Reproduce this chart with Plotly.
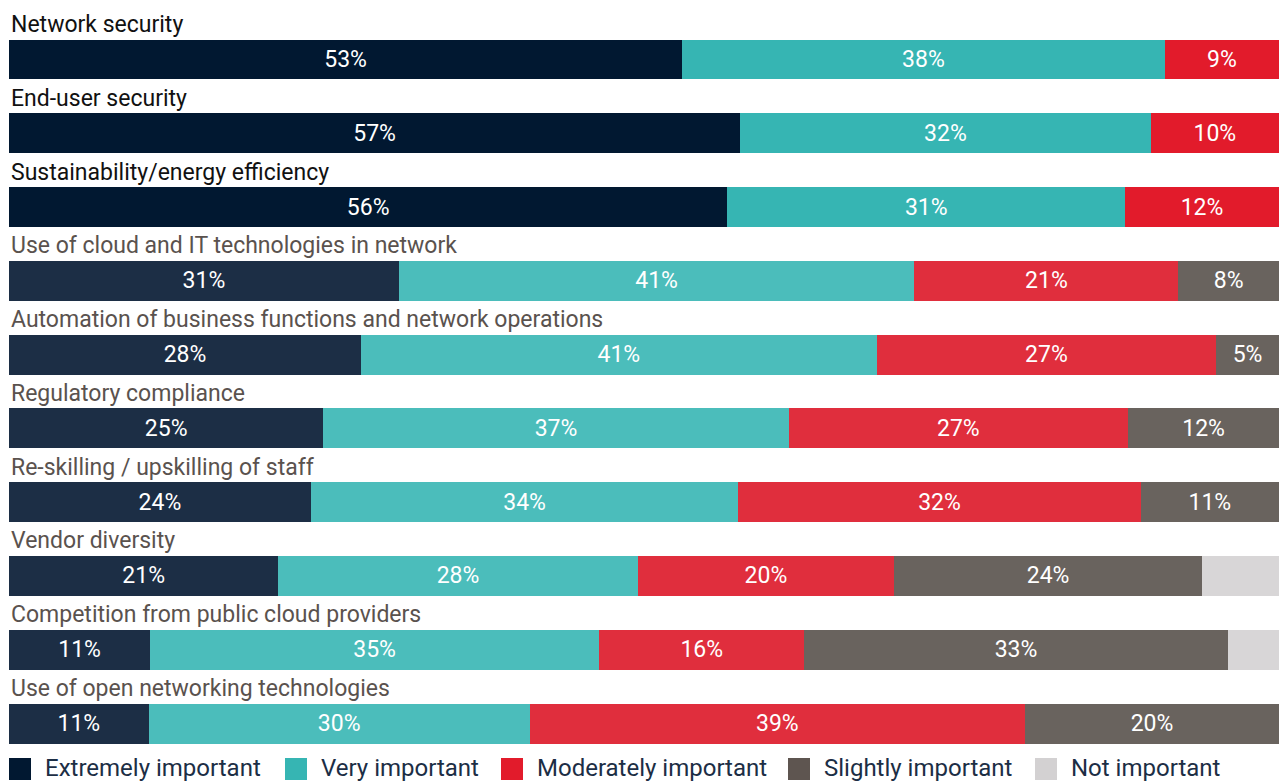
import plotly.graph_objects as go

# Survey priorities, top to bottom
categories = [
    "Network security",
    "End-user security",
    "Sustainability/energy efficiency",
    "Use of cloud and IT technologies in network",
    "Automation of business functions and network operations",
    "Regulatory compliance",
    "Re-skilling / upskilling of staff",
    "Vendor diversity",
    "Competition from public cloud providers",
    "Use of open networking technologies",
]

extremely = [53, 57, 56, 31, 28, 25, 24, 21, 11, 11]
very = [38, 32, 31, 41, 41, 37, 34, 28, 35, 30]
moderately = [9, 10, 12, 21, 27, 27, 32, 20, 16, 39]
slightly = [0, 0, 0, 8, 5, 12, 11, 24, 33, 20]
not_important = [0, 0, 0, 0, 0, 0, 0, 6, 4, 0]

series_names = ["Extremely important", "Very important", "Moderately important",
                "Slightly important", "Not important"]
series_values = [extremely, very, moderately, slightly, not_important]

# First three rows are emphasised with deeper colours
n_top = 3
top_colors = ["#011831", "#36b5b3", "#e21b2b", "#5e5550", "#d3d1d2"]
base_colors = ["#1c2e45", "#4bbdbb", "#e02e3d", "#69635e", "#d8d6d7"]
show_text = [True, True, True, True, False]

FONT = "Roboto"

fig = go.Figure()
for name, vals, ct, cb, st in zip(series_names, series_values, top_colors, base_colors, show_text):
    colors = [ct if i < n_top else cb for i in range(len(vals))]
    texts = [f"{v}%" if (st and v > 0) else "" for v in vals]
    fig.add_trace(go.Bar(
        y=categories, x=vals, orientation="h", name=name,
        marker=dict(color=colors, line=dict(width=0)),
        text=texts, textposition="inside", insidetextanchor="middle",
        textangle=0, constraintext="none",
        insidetextfont=dict(color="white", size=23, family=FONT),
        hoverinfo="skip", showlegend=False,
    ))

# Category titles above each bar
for i, cat in enumerate(categories):
    fig.add_annotation(
        x=0, xref="paper", y=cat, yref="y", text=cat, showarrow=False,
        xanchor="left", yanchor="middle", yshift=35, xshift=0,
        font=dict(size=23, family=FONT, color="#111111" if i < n_top else "#5a524e"),
    )

# Legend row along the bottom
W, H, L = 1279, 781, 9
legend_x = [9, 285, 501, 788, 1035]
sq = 22
for name, c, px in zip(series_names, top_colors, legend_x):
    fig.add_shape(type="rect", xref="paper", yref="paper",
                  x0=(px - L) / (W - L), x1=(px + sq - L) / (W - L),
                  y0=1 - 780 / H, y1=1 - 758 / H,
                  fillcolor=c, line=dict(width=0))
    fig.add_annotation(x=(px + sq + 12 - L) / (W - L), xref="paper",
                       y=1 - 768 / H, yref="paper", text=name, showarrow=False,
                       xanchor="left", yanchor="middle",
                       font=dict(size=24, family=FONT, color="#1c2e45"))

fig.update_layout(
    width=W, height=H,
    margin=dict(l=L, r=0, t=0, b=0),
    barmode="stack", barnorm="percent", bargap=0.458,
    plot_bgcolor="white", paper_bgcolor="white",
    xaxis=dict(range=[0, 100], visible=False, fixedrange=True),
    yaxis=dict(range=[9.5, -0.5], visible=False, domain=[1 - 760.4 / H, 1 - 22.6 / H]),
)

fig.write_html("out.html")
